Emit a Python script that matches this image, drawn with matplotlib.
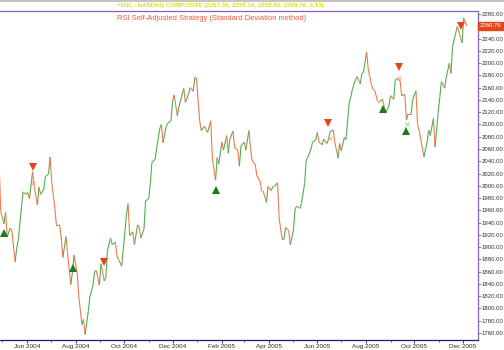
import matplotlib
matplotlib.use("Agg")
import matplotlib.pyplot as plt
import matplotlib.dates as mdates
from matplotlib.collections import LineCollection
from matplotlib.lines import Line2D
import pandas as pd

# NASDAQ composite closes, one value every 2 trading days from 2004-04-27
closes_2004 = [
    2032, 1958, 1938, 1957, 1917, 1931, 1926, 1876, 1898, 1912,
    1964, 1990, 1986, 1989, 1979, 2023, 1999, 1969, 1998, 1986,
    1994, 2015, 2019, 2047, 2006, 1963, 1935, 1936, 1915, 1883,
    1917, 1889, 1839, 1858, 1887, 1858, 1821, 1774, 1782, 1757,
    1795, 1819, 1838, 1860, 1862, 1838, 1873, 1845, 1850, 1894,
    1915, 1904, 1908, 1886, 1880, 1869, 1897, 1952, 1971, 1919,
    1925, 1904, 1936, 1932, 1915, 1929, 1975, 1979, 2004, 2038,
    2043, 2061, 2094, 2100, 2070, 2097, 2102, 2106, 2138, 2148,
    2114, 2129, 2149, 2159, 2136, 2149, 2160, 2154, 2177, 2175,
]
closes_2005 = [
    2107, 2090, 2097, 2092, 2087, 2106, 2045, 2009, 2046, 2035,
    2071, 2058, 2082, 2053, 2076, 2089, 2062, 2058, 2032, 2065,
    2071, 2058, 2090, 2061, 2041, 2034, 2016, 2008, 1991, 1991,
    1973, 1999, 1992, 1999, 1999, 2005, 1946, 1912, 1913, 1932,
    1927, 1904, 1928, 1962, 1967, 1963, 1971, 2004, 2042, 2046,
    2060, 2071, 2075, 2087, 2071, 2067, 2076, 2069, 2075, 2088,
    2091, 2071, 2045, 2069, 2057, 2079, 2075, 2135, 2144, 2157,
    2173, 2178, 2166, 2183, 2185, 2218, 2190, 2165, 2157, 2156,
    2137, 2137, 2141, 2129, 2120, 2130, 2147, 2141, 2172, 2175,
    2171, 2147, 2149, 2107, 2117, 2117, 2141, 2155, 2100, 2090,
    2062, 2047, 2071, 2091, 2082, 2110, 2063, 2120, 2145, 2170,
    2159, 2176, 2200, 2183, 2227, 2249, 2260, 2242, 2233, 2273,
    2260.76,
]

# signals (arrows) and exit marks
buy_dates = ["2004-05-03", "2004-07-29", "2005-01-24", "2005-08-22", "2005-09-21"]
buy_levels = [1923, 1866, 1993, 2125, 2089]
sell_dates = ["2004-06-08", "2004-09-06", "2005-06-15", "2005-09-12", "2005-11-28"]
sell_levels = [2030, 1876, 2102, 2194, 2260]
exit_long_dates = ["2004-06-09", "2005-06-17", "2005-09-12"]
exit_long_levels = [2004, 2078, 2176]
exit_short_dates = ["2005-09-22"]
exit_short_levels = [2101]

y_ticks = list(range(1760, 2281, 20))
last_close = 2260.76

FONT = ["Liberation Sans", "DejaVu Sans"]
UP_COLOR = "#52ad52"
DOWN_COLOR = "#f2794f"
FRAME_COLOR = "#7f66c4"

closes = closes_2004 + closes_2005
dates = pd.bdate_range("2004-04-27", periods=len(closes), freq="2B")
xs = mdates.date2num(dates)

fig = plt.figure(figsize=(5.04, 3.5), dpi=100)
ax = fig.add_axes([0.0, 1 - 340 / 350, 478 / 504, 329 / 350])

segs = []
cols = []
for i in range(len(closes) - 1):
    segs.append([(xs[i], closes[i]), (xs[i + 1], closes[i + 1])])
    cols.append(UP_COLOR if closes[i + 1] >= closes[i] else DOWN_COLOR)
ax.add_collection(LineCollection(segs, colors=cols, linewidths=0.8))

ax.plot(mdates.date2num(pd.to_datetime(buy_dates)), buy_levels, "^",
        color="#1b7a1b", markersize=5.5, markeredgewidth=0)
ax.plot(mdates.date2num(pd.to_datetime(sell_dates)), sell_levels, "v",
        color="#e8421a", markersize=5.5, markeredgewidth=0)
ax.plot(mdates.date2num(pd.to_datetime(exit_long_dates)), exit_long_levels, "x",
        color="#f6a080", markersize=3, markeredgewidth=0.6)
ax.plot(mdates.date2num(pd.to_datetime(exit_short_dates)), exit_short_levels, "x",
        color="#8ccf8c", markersize=3, markeredgewidth=0.6)

ax.set_xlim(mdates.date2num(pd.Timestamp("2004-04-28")),
            mdates.date2num(pd.Timestamp("2005-12-20")))
ax.set_ylim(1748.6, 2284.9)

# axes look
ax.spines["left"].set_visible(False)
ax.spines["top"].set_color(FRAME_COLOR)
ax.spines["right"].set_color(FRAME_COLOR)
ax.spines["bottom"].set_color("#1c1c70")
for s in ax.spines.values():
    s.set_linewidth(0.9)

# the 2260 label sits under the last-value box, so leave it blank
ax.yaxis.tick_right()
ax.set_yticks(y_ticks)
ax.set_yticklabels(["" if v == 2260 else f"{v:.2f}" for v in y_ticks],
                   family=FONT, fontsize=4.3, color="#303030")
ax.tick_params(axis="y", direction="out", length=2, width=0.6, color=FRAME_COLOR, pad=0.8)

ax.xaxis.set_major_locator(mdates.MonthLocator(bymonth=[2, 4, 6, 8, 10, 12]))
ax.xaxis.set_minor_locator(mdates.MonthLocator())
ax.xaxis.set_major_formatter(mdates.DateFormatter("%b %Y"))
ax.tick_params(axis="x", which="major", direction="out", length=2, width=0.6,
               color="#1c1c70", labelsize=4.6, labelcolor="#303030", pad=0.8)
ax.tick_params(axis="x", which="minor", direction="out", length=1.5, width=0.5, color="#1c1c70")
for lbl in ax.get_xticklabels():
    lbl.set_family(FONT)
ax.set_facecolor("white")

# last value label on the right axis
ax.text(1.004, last_close, f"{last_close:.2f}", transform=ax.get_yaxis_transform(),
        ha="left", va="center", fontsize=4.3, family=FONT, color="white",
        bbox=dict(boxstyle="square,pad=0.3", facecolor="#e2461c", edgecolor="#e2461c"))

# headers
fig.add_artist(Line2D([0, 1], [0.997, 0.997], color="#b8b8b8", linewidth=1.2))
fig.text(117 / 504, 1 - 5 / 350, "^IXIC - NASDAQ COMPOSITE (2267.36, 2278.16, 2258.92, 2260.76, 3.13)",
         ha="left", va="center", fontsize=4.4, family=FONT, color="#e0e000", fontweight="bold")
fig.text(117 / 504, 1 - 18 / 350, "RSI Self-Adjusted Strategy (Standard Deviation method)",
         ha="left", va="center", fontsize=5.4, family=FONT, color="#ef5a3a")

fig.savefig("out.png", dpi=100)
